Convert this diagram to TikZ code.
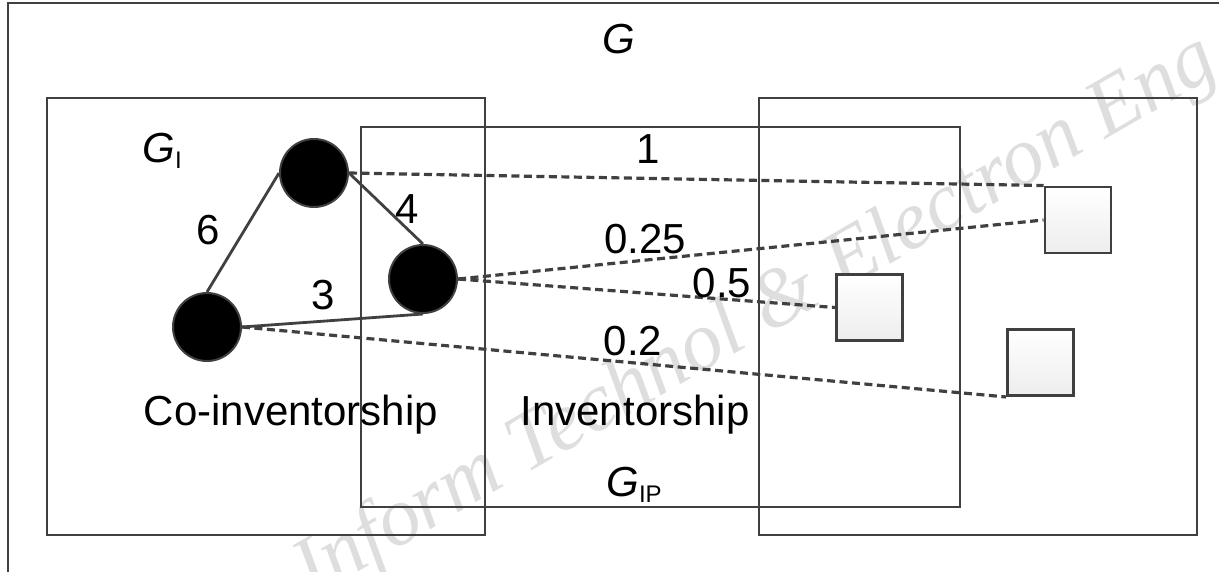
\documentclass[tikz,border=0pt]{standalone}
\usepackage{fontspec}
\setmainfont{Liberation Sans}
\newfontfamily\wmfont{Liberation Serif}
\definecolor{ln}{HTML}{404040}
\definecolor{wm}{HTML}{DEDEDE}
\newcommand{\subtxt}[1]{\raisebox{-6pt}{\fontsize{24}{24}\selectfont #1}}
\begin{document}
\begin{tikzpicture}[x=1pt,y=-1pt,
  frame/.style={draw=ln,line width=2.9pt},
  vert/.style={circle,fill=black,draw=ln,line width=2pt,minimum size=68pt,inner sep=0pt},
  sq/.style={rectangle,draw=ln,line width=2.9pt,top color=white,bottom color=gray!14,minimum size=66pt,inner sep=0pt},
  tie/.style={draw=ln,line width=2.8pt},
  dashedge/.style={draw=ln,line width=3.2pt,dash pattern=on 8pt off 4.5pt},
  lbl/.style={anchor=base,inner sep=0pt,font=\fontsize{42}{50}\selectfont}]
\clip (0,0) rectangle (1219,571);
% watermark
\node[anchor=base west,rotate=30,text=wm,inner sep=0pt,
      font=\wmfont\itshape\fontsize{83}{90}\selectfont] (wmk) at (312,598) {Inform Technol \& Electron Eng};
% frames
\draw[frame] (8,3) rectangle (1250,620);
\draw[frame] (47,98) rectangle (485,535);
\draw[frame] (361,127) rectangle (960,507);
\draw[frame] (759,98) rectangle (1197,535);
% vertices
\node[vert] (a) at (314,173) {};
\node[vert] (b) at (423,279) {};
\node[vert] (c) at (207,327) {};
\node[sq] (s1) at (1078,220) {};
\node[sq] (s2) at (869.5,307.5) {};
\node[sq] (s3) at (1040.5,362.5) {};
% edges
\draw[tie] (a.west) -- (c.north);
\draw[tie] (a.east) -- (b.north);
\draw[tie] (c.east) -- (b.south);
\draw[dashedge] (a.east) -- (s1.north west);
\draw[dashedge] (b.east) -- (s1.west);
\draw[dashedge] (b.east) -- (s2.west);
\draw[dashedge] (c.east) -- (s3.south west);
% labels
\node[lbl] (lg) at (619,53) {\textit{G}};
\node[lbl] (lgi) at (162,162) {\textit{G}\subtxt{I}};
\node[lbl] (lgip) at (634,496) {\textit{G}\subtxt{IP}};
\node[lbl] (l1) at (648,163) {1};
\node[lbl] (l6) at (208,244) {6};
\node[lbl] (l4) at (407,223) {4};
\node[lbl] (l3) at (323,309) {3};
\node[lbl] (l025) at (645,253) {0.25};
\node[lbl] (l05) at (722,297) {0.5};
\node[lbl] (l02) at (633,355) {0.2};
\node[lbl] (lco) at (291,425) {Co-inventorship};
\node[lbl] (lin) at (635,425) {Inventorship};
\end{tikzpicture}
\end{document}
